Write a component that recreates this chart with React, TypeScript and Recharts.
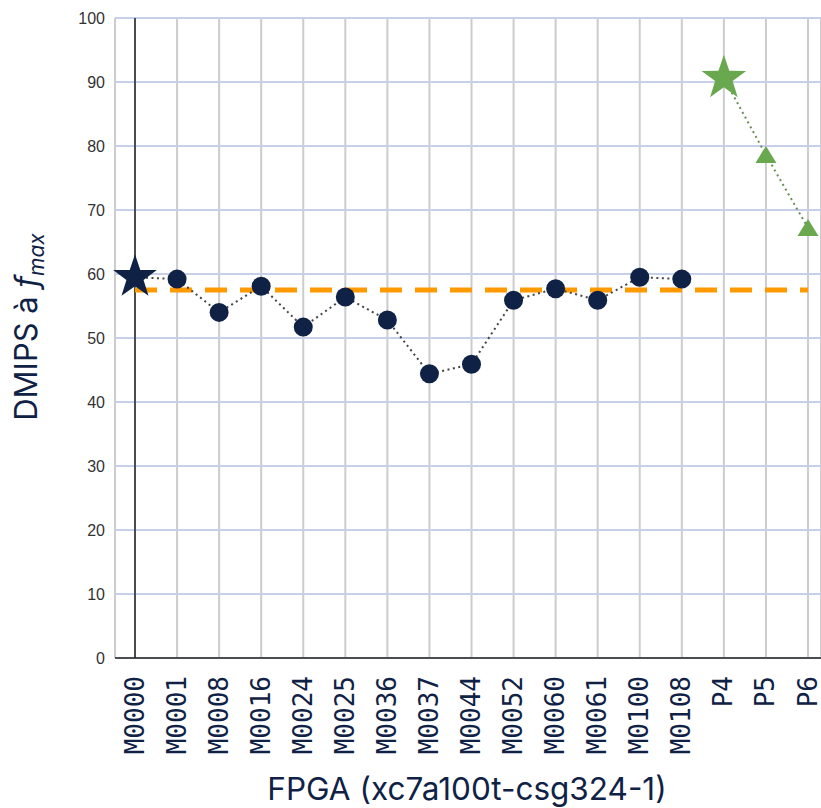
import React from "react";
import { LineChart, Line, XAxis, YAxis, CartesianGrid, ReferenceLine, Label } from "recharts";

const categories = ["M0000","M0001","M0008","M0016","M0024","M0025","M0036","M0037","M0044","M0052","M0060","M0061","M0100","M0108","P4","P5","P6"];
const mainValues: (number | null)[] = [59.5,59.2,54.0,58.1,51.7,56.4,52.8,44.4,45.9,55.9,57.7,55.9,59.5,59.2,null,null,null];
const greenValues: (number | null)[] = [null,null,null,null,null,null,null,null,null,null,null,null,null,null,90.6,78.6,67.2];
const averageValue = 57.5;
const yTicks = [0,10,20,30,40,50,60,70,80,90,100];

const data = categories.map((name, i) => ({ name, main: mainValues[i], green: greenValues[i] }));

const NAVY = "#0f2246";
const GREEN = "#6aa84f";

function starPath(cx: number, cy: number, R: number, r: number) {
  let d = "";
  for (let i = 0; i < 10; i++) {
    const rad = i % 2 === 0 ? R : r;
    const a = -Math.PI / 2 + (i * Math.PI) / 5;
    const x = cx + rad * Math.cos(a);
    const y = cy + rad * Math.sin(a);
    d += (i === 0 ? "M" : "L") + x.toFixed(2) + "," + y.toFixed(2);
  }
  return d + "Z";
}

const MainDot = (props: any) => {
  const { cx, cy, index, value } = props;
  if (value == null || cx == null || cy == null) return <g key={"m" + index} />;
  if (index === 0) return <path key={"m" + index} d={starPath(cx, cy, 23, 9)} fill={NAVY} />;
  return <circle key={"m" + index} cx={cx} cy={cy} r={9.5} fill={NAVY} />;
};

const GreenDot = (props: any) => {
  const { cx, cy, index, value } = props;
  if (value == null || cx == null || cy == null) return <g key={"g" + index} />;
  if (index === 14) return <path key={"g" + index} d={starPath(cx, cy, 23.5, 9.2)} fill={GREEN} />;
  return <path key={"g" + index} d={`M${cx},${cy - 9}L${cx + 10.5},${cy + 8}L${cx - 10.5},${cy + 8}Z`} fill={GREEN} />;
};

const XTick = (props: any) => {
  const { x, y, payload } = props;
  return (
    <text x={x} y={y} transform={`rotate(-90, ${x}, ${y})`} dx={-10} dy={8.5} textAnchor="end"
      fontFamily="'DejaVu Sans Mono', monospace" fontSize={26} fill={NAVY}>
      {payload.value}
    </text>
  );
};

const XTitle = (props: any) => {
  const { viewBox } = props;
  const cx = viewBox.x + viewBox.width / 2 - 1;
  return (
    <text x={cx} y={800} textAnchor="middle" fontFamily="Inter, sans-serif" fontSize={31.5} fill={NAVY}>
      FPGA (xc7a100t-csg324-1)
    </text>
  );
};

const YTitle = (props: any) => {
  const { viewBox } = props;
  const cx = 37;
  const cy = viewBox.y + viewBox.height / 2 - 11;
  return (
    <text x={cx} y={cy} transform={`rotate(-90, ${cx}, ${cy})`} textAnchor="middle"
      fontFamily="Inter, sans-serif" fontSize={31} fill={NAVY}>
      DMIPS à <tspan fontStyle="italic">f</tspan>
      <tspan fontSize={21} dy={7} fontStyle="italic">max</tspan>
    </text>
  );
};

export default function App() {
  return (
    <div style={{ position: "absolute", left: 0, top: 0, width: 821, height: 808, background: "#fff" }}>
      <LineChart width={821} height={808} data={data} margin={{ top: 18, right: 0, bottom: 0, left: 0 }}>
        <CartesianGrid horizontal={false} stroke="#cccccc" strokeWidth={2} />
        <CartesianGrid vertical={false} stroke="#c7cfea" strokeWidth={2} />
        <XAxis dataKey="name" type="category" padding={{ left: 20, right: 13 }} height={150}
          axisLine={{ stroke: "#222", strokeWidth: 1.5 }} tickLine={false} interval={0} tick={<XTick />}>
          <Label content={<XTitle />} />
        </XAxis>
        <YAxis type="number" domain={[0, 100]} ticks={yTicks} width={115} axisLine={false} tickLine={false}
          tickMargin={4} interval={0}
          tick={{ fontFamily: "'Liberation Sans', Arial, sans-serif", fontSize: 16, fill: "#333" }}>
          <Label content={<YTitle />} />
        </YAxis>
        <ReferenceLine x="M0000" stroke="#222" strokeWidth={1.5} />
        <ReferenceLine segment={[{ x: "M0000", y: averageValue }, { x: "P6", y: averageValue }]}
          stroke="#ff9900" strokeWidth={5} strokeDasharray="22 13" />
        <Line dataKey="main" stroke="#444" strokeWidth={2} strokeDasharray="2 3.5" dot={<MainDot />}
          activeDot={false} isAnimationActive={false} connectNulls={false} />
        <Line dataKey="green" stroke="#6a8f55" strokeWidth={2} strokeDasharray="2 3.5" dot={<GreenDot />}
          activeDot={false} isAnimationActive={false} connectNulls={false} />
      </LineChart>
    </div>
  );
}
